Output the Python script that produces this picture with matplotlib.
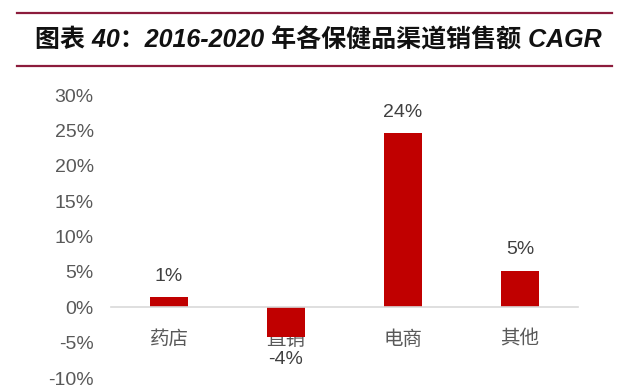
import matplotlib.pyplot as plt
from matplotlib.lines import Line2D

plt.rcParams['font.family'] = ['Liberation Sans', 'Noto Sans CJK SC']

# data
channels = ['药店', '直销', '电商', '其他']
cagr = [1.4, -4.2, 24.6, 5.2]
value_labels = ['1%', '-4%', '24%', '5%']
yticks = [-10, -5, 0, 5, 10, 15, 20, 25, 30]

fig = plt.figure(figsize=(6.36, 3.91), dpi=100)
ax = fig.add_axes([110.5 / 636, 0.033, 468 / 636, 0.724])

x = range(len(channels))
ax.bar(x, cagr, width=0.32, color='#C00000', zorder=2)

ax.set_ylim(-10, 30)
ax.set_xlim(-0.5, 3.5)
ax.set_yticks(yticks)
ax.set_yticklabels([f'{v}%' for v in yticks], fontsize=14, color='#595959')
ax.tick_params(axis='y', length=0, pad=12)

# zero axis with category labels
ax.spines['bottom'].set_position(('data', 0))
ax.spines['bottom'].set_color('#D9D9D9')
ax.spines['bottom'].set_linewidth(1.2)
for s in ['top', 'right', 'left']:
    ax.spines[s].set_visible(False)
ax.set_xticks(list(x))
ax.set_xticklabels(channels, fontsize=14, color='#595959')
ax.tick_params(axis='x', length=0, pad=17)

# value labels
for i, v in enumerate(cagr):
    if v >= 0:
        ax.annotate(value_labels[i], (i, v), xytext=(0, 9), textcoords='offset points',
                    ha='center', va='bottom', fontsize=14, color='#404040')
    else:
        ax.annotate(value_labels[i], (i, v), xytext=(0, -10), textcoords='offset points',
                    ha='center', va='top', fontsize=14, color='#404040')

# title with rules
fig.add_artist(Line2D([0.027, 0.962], [1 - 13 / 391, 1 - 13 / 391], color='#8C1C3C', lw=1.6))
fig.add_artist(Line2D([0.027, 0.962], [1 - 66 / 391, 1 - 66 / 391], color='#8C1C3C', lw=1.6))
fig.text(0.5, 1 - 40 / 391, '图表 40：2016-2020 年各保健品渠道销售额 CAGR',
         ha='center', va='center', fontsize=18, fontweight='bold', style='italic',
         family=['Liberation Sans', 'Noto Sans CJK SC'], color='#111111')

plt.savefig('out.png', dpi=100)
plt.close()
